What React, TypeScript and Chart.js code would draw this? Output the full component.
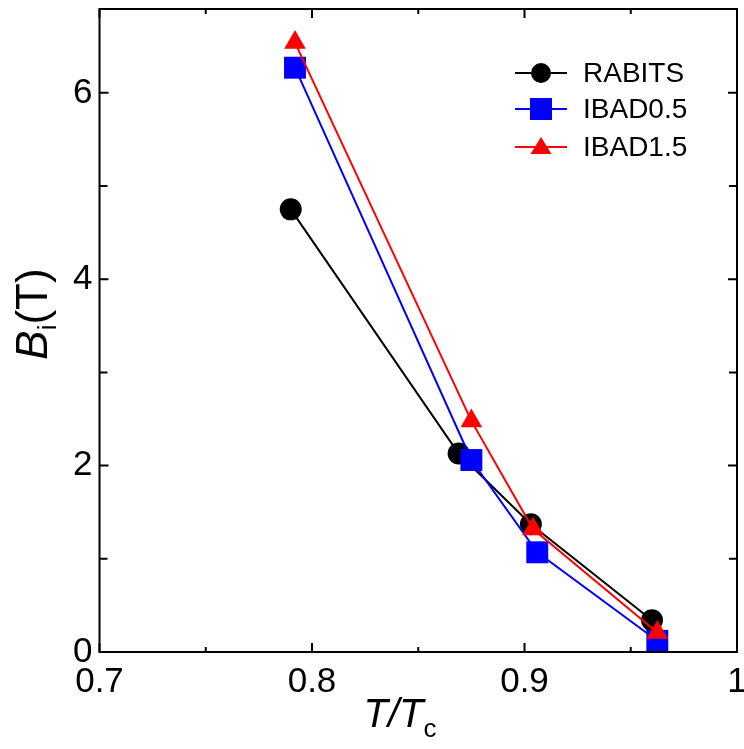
import React, { useEffect, useRef } from "react";
import { Chart, registerables } from "chart.js";

Chart.register(...registerables);

const seriesNames = ["RABITS", "IBAD0.5", "IBAD1.5"];
const seriesColors = ["#000000", "#0000ff", "#ff0000"];
const rabitsX = [0.79, 0.869, 0.903, 0.96];
const rabitsY = [4.75, 2.13, 1.37, 0.34];
const ibad05X = [0.792, 0.875, 0.906, 0.9625];
const ibad05Y = [6.27, 2.06, 1.07, 0.12];
const ibad15X = [0.792, 0.875, 0.904, 0.9625];
const ibad15Y = [6.54, 2.48, 1.32, 0.21];

const xTicks = [0.7, 0.8, 0.9, 1.0];
const xTickLabels = ["0.7", "0.8", "0.9", "1"];
const xMinor = [0.75, 0.85, 0.95];
const yTicks = [0, 2, 4, 6];
const yTickLabels = ["0", "2", "4", "6"];
const yMinor = [1, 3, 5];

const FONT = "'Liberation Sans', Arial, sans-serif";

const toPoints = (xs: number[], ys: number[]) => xs.map((x, i) => ({ x, y: ys[i] }));

function drawMarker(ctx: CanvasRenderingContext2D, style: string, x: number, y: number, color: string) {
  ctx.fillStyle = color;
  ctx.beginPath();
  if (style === "circle") {
    ctx.arc(x, y, 10, 0, Math.PI * 2);
  } else if (style === "rect") {
    ctx.rect(x - 11, y - 11, 22, 22);
  } else {
    ctx.moveTo(x, y - 10);
    ctx.lineTo(x + 10.5, y + 7);
    ctx.lineTo(x - 10.5, y + 7);
    ctx.closePath();
  }
  ctx.fill();
}

const zeroPad = (s: any) => {
  s.paddingTop = 0;
  s.paddingBottom = 0;
  s.paddingLeft = 0;
  s.paddingRight = 0;
};

const decorPlugin = {
  id: "decor",
  afterDraw(chart: any) {
    const ctx: CanvasRenderingContext2D = chart.ctx;
    const { left, right, top, bottom } = chart.chartArea;
    const xs = chart.scales.x;
    const ys = chart.scales.y;
    ctx.save();
    ctx.strokeStyle = "#000";
    ctx.lineWidth = 2;
    ctx.strokeRect(left, top, right - left, bottom - top);
    ctx.beginPath();
    xTicks.forEach((v) => {
      const p = xs.getPixelForValue(v);
      ctx.moveTo(p, bottom);
      ctx.lineTo(p, bottom - 9);
      ctx.moveTo(p, top);
      ctx.lineTo(p, top + 9);
    });
    xMinor.forEach((v) => {
      const p = xs.getPixelForValue(v);
      ctx.moveTo(p, bottom);
      ctx.lineTo(p, bottom - 5);
      ctx.moveTo(p, top);
      ctx.lineTo(p, top + 5);
    });
    yTicks.forEach((v) => {
      const p = ys.getPixelForValue(v);
      ctx.moveTo(left, p);
      ctx.lineTo(left + 9, p);
      ctx.moveTo(right, p);
      ctx.lineTo(right - 9, p);
    });
    yMinor.forEach((v) => {
      const p = ys.getPixelForValue(v);
      ctx.moveTo(left, p);
      ctx.lineTo(left + 8, p);
      ctx.moveTo(right, p);
      ctx.lineTo(right - 8, p);
    });
    ctx.stroke();

    // legend
    const styles = ["circle", "rect", "triangle"];
    const rows = [73, 109, 147];
    ctx.font = `28px ${FONT}`;
    ctx.textBaseline = "middle";
    ctx.textAlign = "left";
    seriesNames.forEach((name, i) => {
      const y = rows[i];
      ctx.strokeStyle = seriesColors[i];
      ctx.lineWidth = 2;
      ctx.beginPath();
      ctx.moveTo(515, y);
      ctx.lineTo(567, y);
      ctx.stroke();
      drawMarker(ctx, styles[i], 541, y, seriesColors[i]);
      ctx.fillStyle = "#000";
      ctx.fillText(name, 583, y + 1);
    });

    // x title: T/Tc
    ctx.fillStyle = "#000";
    ctx.textBaseline = "alphabetic";
    const big = 40;
    const sub = 26;
    ctx.font = `italic ${big}px ${FONT}`;
    const main = "T/T";
    const wMain = ctx.measureText(main).width;
    ctx.font = `${sub}px ${FONT}`;
    const wSub = ctx.measureText("c").width;
    const xStart = 400 - (wMain + wSub) / 2;
    const xBase = 727;
    ctx.font = `italic ${big}px ${FONT}`;
    ctx.fillText(main, xStart, xBase);
    ctx.font = `${sub}px ${FONT}`;
    ctx.fillText("c", xStart + wMain, xBase + 10);

    // y title: Bi(T)
    const yb = 44;
    ctx.save();
    ctx.translate(47, 314);
    ctx.rotate(-Math.PI / 2);
    ctx.font = `italic ${yb}px ${FONT}`;
    const wB = ctx.measureText("B").width;
    ctx.font = `${sub}px ${FONT}`;
    const wi = ctx.measureText("i").width;
    ctx.font = `${yb}px ${FONT}`;
    const wT = ctx.measureText("(T)").width;
    const total = wB + wi + wT;
    let u = -total / 2;
    ctx.font = `italic ${yb}px ${FONT}`;
    ctx.fillText("B", u, 0);
    u += wB;
    ctx.font = `${sub}px ${FONT}`;
    ctx.fillText("i", u, 9);
    u += wi;
    ctx.font = `${yb}px ${FONT}`;
    ctx.fillText("(T)", u, 0);
    ctx.restore();

    ctx.restore();
  },
};

export default function App() {
  const ref = useRef<HTMLCanvasElement | null>(null);
  useEffect(() => {
    document.body.style.margin = "0";
    const canvas = ref.current;
    if (!canvas) return;
    const chart = new Chart(canvas, {
      type: "line",
      data: {
        datasets: [
          {
            label: seriesNames[0],
            data: toPoints(rabitsX, rabitsY),
            borderColor: seriesColors[0],
            backgroundColor: seriesColors[0],
            borderWidth: 2,
            pointStyle: "circle",
            pointRadius: 11,
            pointBorderWidth: 0,
            order: 3,
            clip: false,
          },
          {
            label: seriesNames[1],
            data: toPoints(ibad05X, ibad05Y),
            borderColor: seriesColors[1],
            backgroundColor: seriesColors[1],
            borderWidth: 2,
            pointStyle: "rect",
            pointRadius: 15.5,
            pointBorderWidth: 0,
            order: 2,
            clip: false,
          },
          {
            label: seriesNames[2],
            data: toPoints(ibad15X, ibad15Y),
            borderColor: seriesColors[2],
            backgroundColor: seriesColors[2],
            borderWidth: 2,
            pointStyle: "triangle",
            pointRadius: 12.5,
            pointBorderWidth: 0,
            order: 1,
            clip: false,
          },
        ],
      } as any,
      options: {
        animation: false,
        responsive: false,
        maintainAspectRatio: false,
        layout: { autoPadding: false, padding: { top: 9, right: 7, left: 0, bottom: 0 } },
        plugins: { legend: { display: false }, tooltip: { enabled: false } },
        elements: { line: { tension: 0 } },
        scales: {
          x: {
            type: "linear",
            min: 0.7,
            max: 1.0,
            grid: { display: false, drawTicks: false },
            border: { display: false },
            afterBuildTicks: (s: any) => {
              s.ticks = xTicks.map((v) => ({ value: v }));
            },
            afterFit: (s: any) => {
              s.height = 97;
              zeroPad(s);
            },
            ticks: {
              autoSkip: false,
              maxRotation: 0,
              padding: 9,
              color: "#000",
              font: { family: FONT, size: 35 },
              callback: (_v: any, i: number) => xTickLabels[i],
            },
          },
          y: {
            type: "linear",
            min: 0,
            max: 6.9,
            grid: { display: false, drawTicks: false },
            border: { display: false },
            afterBuildTicks: (s: any) => {
              s.ticks = yTicks.map((v) => ({ value: v }));
            },
            afterFit: (s: any) => {
              s.width = 99.5;
              zeroPad(s);
            },
            ticks: {
              autoSkip: false,
              padding: 7,
              color: "#000",
              font: { family: FONT, size: 35 },
              callback: (_v: any, i: number) => yTickLabels[i],
            },
          },
        },
      } as any,
      plugins: [decorPlugin],
    });
    return () => chart.destroy();
  }, []);
  return (
    <div style={{ width: 744, height: 749 }}>
      <canvas ref={ref} width={744} height={749} style={{ display: "block" }} />
    </div>
  );
}
